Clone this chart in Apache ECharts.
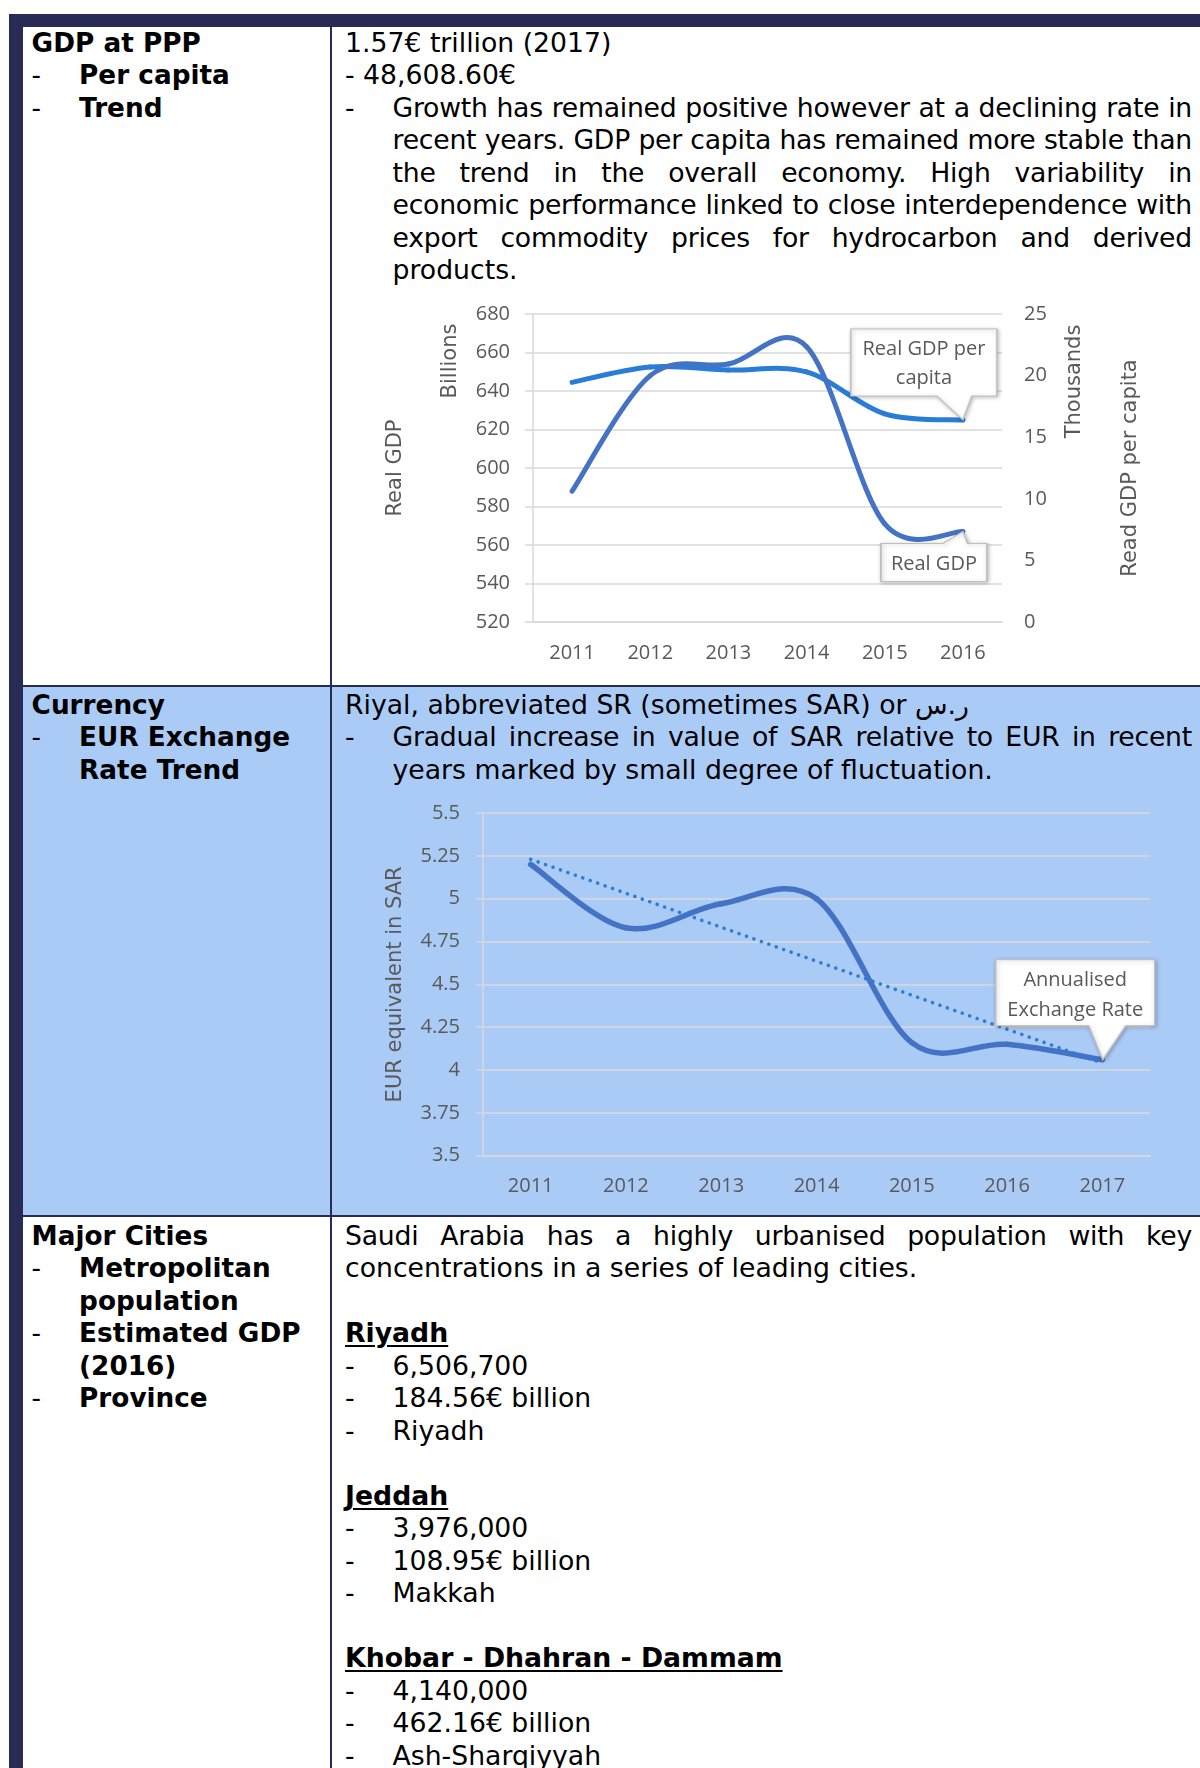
<!DOCTYPE html>
<html><head><meta charset="utf-8">
<script src="https://cdn.jsdelivr.net/npm/echarts@6/dist/echarts.min.js"></script>
<style>
html,body{margin:0;padding:0;background:#fff;}
body{width:1200px;height:1768px;position:relative;overflow:hidden;font-family:'DejaVu Sans',Verdana,sans-serif;color:#000;}
.bar{position:absolute;background:#282b56;}
.rowbg{position:absolute;background:#abcbf7;}
.txt{position:absolute;font-size:26.7px;line-height:32.5px;white-space:nowrap;}
.txt.b{font-size:26.3px;}
.b{font-weight:bold;}
.b .dash{font-weight:normal;}
.line{height:32.5px;}
.bul{display:flex;}
.dash{width:47.5px;flex:none;}
.just{display:flex;justify-content:space-between;letter-spacing:-0.25px;}
.u{text-decoration:underline;text-decoration-thickness:2px;text-underline-offset:3px;}
.chart{position:absolute;}
</style>
</head><body>
<div class="bar" style="left:9px;top:13.5px;width:1191px;height:13.5px"></div>
<div class="bar" style="left:9px;top:13.5px;width:13.5px;height:1755px"></div>
<div class="rowbg" style="left:22.5px;top:686px;width:1177.5px;height:529.5px"></div>
<div class="bar" style="left:329.5px;top:27px;width:2px;height:1741px"></div>
<div class="bar" style="left:22.5px;top:684.5px;width:1177.5px;height:2px"></div>
<div class="bar" style="left:22.5px;top:1215px;width:1177.5px;height:2px"></div>

<!-- Row 1 -->
<div class="txt b" style="left:31.6px;top:26.6px">
  <div class="line">GDP at PPP</div>
  <div class="line bul"><div class="dash">-</div><div>Per capita</div></div>
  <div class="line bul"><div class="dash">-</div><div>Trend</div></div>
</div>
<div class="txt" style="left:345px;top:26.6px;width:847px">
  <div class="line">1.57€ trillion (2017)</div>
  <div class="line">- 48,608.60€</div>
  <div class="bul"><div class="dash">-</div><div style="width:799.5px">
    <div class="line just">Growth has remained positive however at a declining rate in</div>
    <div class="line just">recent years. GDP per capita has remained more stable than</div>
    <div class="line just">the trend in the overall economy. High variability in</div>
    <div class="line just">economic performance linked to close interdependence with</div>
    <div class="line just">export commodity prices for hydrocarbon and derived</div>
    <div class="line">products.</div>
  </div></div>
</div>
<div id="c1" class="chart" style="left:332px;top:290px;width:868px;height:392px"></div>

<!-- Row 2 -->
<div class="txt b" style="left:31.6px;top:688.8px">
  <div class="line">Currency</div>
  <div class="line bul"><div class="dash">-</div><div>EUR Exchange</div></div>
  <div class="line bul"><div class="dash"></div><div>Rate Trend</div></div>
</div>
<div class="txt" style="left:345px;top:688.8px;width:847px">
  <div class="line">Riyal, abbreviated SR (sometimes SAR) or <span dir="rtl">ر.س</span></div>
  <div class="bul"><div class="dash">-</div><div style="width:799.5px">
    <div class="line just">Gradual increase in value of SAR relative to EUR in recent</div>
    <div class="line">years marked by small degree of fluctuation.</div>
  </div></div>
</div>
<div id="c2" class="chart" style="left:332px;top:790px;width:868px;height:420px"></div>

<!-- Row 3 -->
<div class="txt b" style="left:31.6px;top:1219.8px">
  <div class="line">Major Cities</div>
  <div class="line bul"><div class="dash">-</div><div>Metropolitan</div></div>
  <div class="line bul"><div class="dash"></div><div>population</div></div>
  <div class="line bul"><div class="dash">-</div><div>Estimated GDP</div></div>
  <div class="line bul"><div class="dash"></div><div>(2016)</div></div>
  <div class="line bul"><div class="dash">-</div><div>Province</div></div>
</div>
<div class="txt" style="left:345px;top:1219.8px;width:847px">
  <div class="line just">Saudi Arabia has a highly urbanised population with key</div>
  <div class="line">concentrations in a series of leading cities.</div>
  <div class="line"></div>
  <div class="line"><span class="b u">Riyadh</span></div>
  <div class="line bul"><div class="dash">-</div><div>6,506,700</div></div>
  <div class="line bul"><div class="dash">-</div><div>184.56€ billion</div></div>
  <div class="line bul"><div class="dash">-</div><div>Riyadh</div></div>
  <div class="line"></div>
  <div class="line"><span class="b u">Jeddah</span></div>
  <div class="line bul"><div class="dash">-</div><div>3,976,000</div></div>
  <div class="line bul"><div class="dash">-</div><div>108.95€ billion</div></div>
  <div class="line bul"><div class="dash">-</div><div>Makkah</div></div>
  <div class="line"></div>
  <div class="line"><span class="b u">Khobar - Dhahran - Dammam</span></div>
  <div class="line bul"><div class="dash">-</div><div>4,140,000</div></div>
  <div class="line bul"><div class="dash">-</div><div>462.16€ billion</div></div>
  <div class="line bul"><div class="dash">-</div><div>Ash-Sharqiyyah</div></div>
</div>

<script>
// ---- Data ----
const gdpYears = ['2011', '2012', '2013', '2014', '2015', '2016'];
const realGdp = [588, 648, 654, 663, 571, 567];                  // billions
const realGdpPerCapita = [19.45, 20.7, 20.45, 20.3, 16.9, 16.4]; // thousands
const gdpTicks = [520, 540, 560, 580, 600, 620, 640, 660, 680];
const perCapitaTicks = [0, 5, 10, 15, 20, 25];

const rateYears = ['2011', '2012', '2013', '2014', '2015', '2016', '2017'];
const exchangeRate = [5.20, 4.83, 4.97, 5.00, 4.16, 4.15, 4.06];
const exchangeTrend = [5.23, null, null, null, null, null, 4.04];
const rateTicks = [3.5, 3.75, 4, 4.25, 4.5, 4.75, 5, 5.25, 5.5];

// justify helper: words as flex items
document.querySelectorAll('.just').forEach(el => {
  const words = el.textContent.trim().split(/\s+/);
  el.textContent = '';
  words.forEach(w => { const s = document.createElement('span'); s.textContent = w; el.appendChild(s); });
});

const GRAY = '#595959', GRID = '#d9d9d9';
const lbl = { color: GRAY, fontSize: 20, fontFamily: 'Open Sans' };
const nameStyle = { fontFamily: 'DejaVu Sans', fontSize: 21, color: GRAY };
const calloutItem = { color: '#fff', borderColor: '#bfbfbf', borderWidth: 1.2,
  shadowBlur: 4, shadowColor: 'rgba(0,0,0,0.25)', shadowOffsetX: 1, shadowOffsetY: 1 };
const calloutLabel = { show: true, position: 'inside', color: GRAY, fontSize: 20, fontFamily: 'Open Sans' };

// Office-style smoothed line (Catmull-Rom through the data points, positions from the axes)
function smoothSeries(categories, values, yAxisIndex, color, width) {
  return {
    type: 'custom', yAxisIndex: yAxisIndex, z: 3, silent: true,
    data: values.map((v, i) => [categories[i], v]),
    encode: { x: 0, y: 1 },
    renderItem: function (params, api) {
      if (params.dataIndex !== 0) return null;
      const pts = values.map((v, i) => api.coord([i, v]));
      const n = pts.length, children = [];
      for (let i = 0; i < n - 1; i++) {
        const p0 = pts[Math.max(i - 1, 0)], p1 = pts[i], p2 = pts[i + 1], p3 = pts[Math.min(i + 2, n - 1)];
        children.push({
          type: 'bezierCurve',
          shape: {
            x1: p1[0], y1: p1[1], x2: p2[0], y2: p2[1],
            cpx1: p1[0] + (p2[0] - p0[0]) / 6, cpy1: p1[1] + (p2[1] - p0[1]) / 6,
            cpx2: p2[0] - (p3[0] - p1[0]) / 6, cpy2: p2[1] - (p3[1] - p1[1]) / 6
          },
          style: { stroke: color, lineWidth: width, fill: null, lineCap: 'round' }
        });
      }
      return { type: 'group', children: children };
    }
  };
}
function calloutCarrier(values, yAxisIndex, markPoint) {
  return { type: 'line', yAxisIndex: yAxisIndex, data: values, symbol: 'none', silent: true, z: 10,
    lineStyle: { opacity: 0 }, markPoint: markPoint };
}

// ---- Chart 1 ----
const c1 = echarts.init(document.getElementById('c1'));
c1.setOption({
  animation: false,
  textStyle: { fontFamily: 'Open Sans' },
  grid: { left: 201, right: 198, top: 24, bottom: 60 },
  xAxis: {
    type: 'category', data: gdpYears, boundaryGap: true,
    axisLine: { lineStyle: { color: GRID, width: 1.5 } }, axisTick: { show: false },
    axisLabel: Object.assign({ margin: 21 }, lbl)
  },
  yAxis: [{
    type: 'value', position: 'left',
    min: gdpTicks[0], max: gdpTicks[gdpTicks.length - 1], interval: gdpTicks[1] - gdpTicks[0],
    axisLine: { show: true, lineStyle: { color: GRID, width: 1.5 } },
    axisTick: { show: true, length: 8, lineStyle: { color: GRID, width: 1.5 } },
    splitLine: { lineStyle: { color: GRID, width: 1.5 } },
    axisLabel: Object.assign({ margin: 23 }, lbl),
    name: 'Real GDP', nameLocation: 'middle', nameRotate: 90, nameGap: 127, nameTextStyle: nameStyle
  }, {
    type: 'value', position: 'right',
    min: perCapitaTicks[0], max: perCapitaTicks[perCapitaTicks.length - 1], interval: perCapitaTicks[1] - perCapitaTicks[0],
    axisLine: { show: false }, axisTick: { show: false }, splitLine: { show: false },
    axisLabel: Object.assign({ margin: 22 }, lbl),
    name: 'Read GDP per capita', nameLocation: 'middle', nameRotate: 90, nameGap: 118, nameTextStyle: nameStyle
  }],
  graphic: [
    { type: 'text', x: 119, y: 71, rotation: Math.PI / 2,
      style: { text: 'Billions', fontSize: 21, fontFamily: 'DejaVu Sans', fill: GRAY, align: 'center', verticalAlign: 'middle' } },
    { type: 'text', x: 743, y: 91.5, rotation: Math.PI / 2,
      style: { text: 'Thousands', fontSize: 21, fontFamily: 'DejaVu Sans', fill: GRAY, align: 'center', verticalAlign: 'middle' } }
  ],
  series: [
    smoothSeries(gdpYears, realGdpPerCapita, 1, '#2a7dd6', 5),
    smoothSeries(gdpYears, realGdp, 0, '#4472c4', 5),
    calloutCarrier(realGdpPerCapita, 1, {
      symbol: 'path://M0,0L146,0L146,67L121,67L112,91L86,67L0,67Z',
      symbolSize: [146, 91], symbolOffset: [-39, -45.5], itemStyle: calloutItem,
      label: Object.assign({}, calloutLabel, { formatter: 'Real GDP per\ncapita', lineHeight: 28.6, offset: [0, -10.5] }),
      data: [{ coord: [gdpYears[gdpYears.length - 1], realGdpPerCapita[realGdpPerCapita.length - 1]] }]
    }),
    calloutCarrier(realGdp, 0, {
      symbol: 'path://M0,12L62,12L82,0L87,12L106,12L106,50L0,50Z',
      symbolSize: [106, 50], symbolOffset: [-29, 25], itemStyle: calloutItem,
      label: Object.assign({}, calloutLabel, { formatter: 'Real GDP', offset: [0, 7.3] }),
      data: [{ coord: [gdpYears[gdpYears.length - 1], realGdp[realGdp.length - 1]] }]
    })
  ]
});

// ---- Chart 2 ----
const c2 = echarts.init(document.getElementById('c2'));
c2.setOption({
  animation: false,
  textStyle: { fontFamily: 'Open Sans' },
  grid: { left: 151, right: 50, top: 23, bottom: 54.3 },
  xAxis: {
    type: 'category', data: rateYears, boundaryGap: true,
    axisLine: { lineStyle: { color: GRID, width: 1.5 } }, axisTick: { show: false },
    axisLabel: Object.assign({ margin: 21 }, lbl)
  },
  yAxis: {
    type: 'value',
    min: rateTicks[0], max: rateTicks[rateTicks.length - 1], interval: rateTicks[1] - rateTicks[0],
    axisLine: { show: true, lineStyle: { color: GRID, width: 1.5 } },
    axisTick: { show: true, length: 7, lineStyle: { color: GRID, width: 1.5 } },
    splitLine: { lineStyle: { color: GRID, width: 1.5 } },
    axisLabel: Object.assign({ margin: 23 }, lbl),
    name: 'EUR equivalent in SAR', nameLocation: 'middle', nameRotate: 90, nameGap: 77, nameTextStyle: nameStyle
  },
  series: [
    smoothSeries(rateYears, exchangeRate, 0, '#4472c4', 5.5),
    {
      name: 'Trend', type: 'line', data: exchangeTrend, connectNulls: true, z: 4, silent: true,
      symbol: 'none', lineStyle: { color: '#2a7dd6', width: 3.5, type: [0.1, 7.8], cap: 'round' }
    },
    calloutCarrier(exchangeRate, 0, {
      symbol: 'path://M0,0L159,0L159,66L130,66L107,100L93,66L0,66Z',
      symbolSize: [159, 100], symbolOffset: [-27.1, -50], itemStyle: calloutItem,
      label: Object.assign({}, calloutLabel, { formatter: 'Annualised\nExchange Rate', lineHeight: 30, offset: [0, -14.3] }),
      data: [{ coord: [rateYears[rateYears.length - 1], exchangeRate[exchangeRate.length - 1]] }]
    })
  ]
});
</script>
</body></html>
